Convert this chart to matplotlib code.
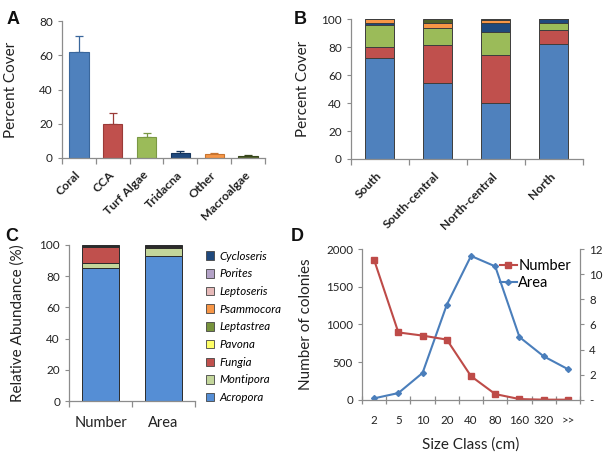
import matplotlib
matplotlib.use("Agg")
import matplotlib.pyplot as plt
import numpy as np
from matplotlib.patches import Patch

plt.rcParams['font.family'] = ['Lato', 'DejaVu Sans']

# ---------- Data ----------
# Panel A
a_categories = ["Coral", "CCA", "Turf Algae", "Tridacna", "Other", "Macroalgae"]
a_values = [62, 20, 12, 2.8, 2.3, 1.0]
a_errors = [9.5, 6.5, 2.5, 1.2, 0.7, 0.5]

# Panel B
b_regions = ["South", "South-central", "North-central", "North"]
b_coral = [72, 54, 40, 82]
b_cca = [8, 27.5, 34.5, 10]
b_turf = [15.5, 12, 16, 5]
b_tridacna = [2, 0, 7, 3]
b_other = [2.5, 4, 1.5, 0]
b_macro = [0, 2.5, 1, 0]

# Panel C
c_groups = ["Number", "Area"]
c_genera = ["Acropora", "Montipora", "Fungia", "Pavona", "Leptastrea",
            "Psammocora", "Leptoseris", "Porites", "Cycloseris"]
c_acropora = [85, 93]
c_montipora = [3.5, 5]
c_fungia = [10.5, 0.3]
c_pavona = [0, 0.3]
c_leptastrea = [0.2, 0.3]
c_psammocora = [0, 0.2]
c_leptoseris = [0.1, 0.1]
c_porites = [0, 0.1]
c_cycloseris = [0.7, 0.7]

# Panel D
d_sizes = ["2", "5", "10", "20", "40", "80", "160", "320", ">>"]
d_number = [1855, 895, 853, 800, 315, 78, 12, 4, 4]
d_area = [0.13, 0.55, 2.15, 7.57, 11.45, 10.62, 5.0, 3.47, 2.45]

# ---------- Style ----------
spine_col = "#8c8c8c"
txt_col = "#222222"

def style_axes(ax):
    for s in ["top", "right"]:
        ax.spines[s].set_visible(False)
    for s in ["left", "bottom"]:
        ax.spines[s].set_color(spine_col)
        ax.spines[s].set_linewidth(0.9)
    ax.tick_params(axis="both", colors=spine_col, labelcolor=txt_col)

def cat_ticks(ax, n, direction="out", length=4):
    ax.set_xlim(-0.5, n - 0.5)
    ax.set_xticks(np.arange(n))
    ax.set_xticks(np.arange(n + 1) - 0.5, minor=True)
    ax.tick_params(axis="x", which="major", length=0)
    ax.tick_params(axis="x", which="minor", length=length, direction=direction,
                   color=spine_col, width=0.9)

fig = plt.figure(figsize=(6.11, 4.54), dpi=100)

# ---------- Panel A ----------
axA = fig.add_axes([0.1015, 0.652, 0.332, 0.3017])
style_axes(axA)
colsA = ["#4F81BD", "#C0504D", "#9BBB59", "#1F497D", "#F79646", "#4F6228"]
edgA = ["#3A679C", "#9B3B38", "#7A9844", "#15355C", "#C77430", "#37461B"]
xA = np.arange(len(a_categories))
for i in range(len(xA)):
    axA.errorbar(xA[i], a_values[i], yerr=[[0], [a_errors[i]]], fmt="none",
                 ecolor=edgA[i], elinewidth=0.9, capsize=3, capthick=0.9, zorder=1)
axA.bar(xA, a_values, width=0.57, color=colsA, edgecolor=edgA, linewidth=0.8, zorder=2)
axA.set_ylim(0, 80)
axA.set_yticks([0, 20, 40, 60, 80])
cat_ticks(axA, len(xA))
axA.set_xticklabels(a_categories, rotation=45, ha="right", va="center",
                    rotation_mode="anchor", fontsize=8.8, fontweight="bold")
axA.tick_params(axis="x", which="major", pad=11)
axA.tick_params(axis="y", labelsize=8.5, length=3)
axA.set_ylabel("Percent Cover", fontsize=11, color=txt_col)
axA.yaxis.set_label_coords(-0.215, 0.5)

# ---------- Panel B ----------
axB = fig.add_axes([0.574, 0.6498, 0.380, 0.3082])
style_axes(axB)
xB = np.arange(len(b_regions))
layersB = [b_coral, b_cca, b_turf, b_tridacna, b_other, b_macro]
bottom = np.zeros(len(xB))
for vals, c in zip(layersB, colsA):
    vals = np.array(vals, dtype=float)
    axB.bar(xB, vals, bottom=bottom, width=0.5, color=c, edgecolor="#3d3d3d",
            linewidth=0.7)
    bottom += vals
axB.set_ylim(0, 100)
axB.set_yticks([0, 20, 40, 60, 80, 100])
cat_ticks(axB, len(xB))
axB.set_xticklabels(b_regions, rotation=45, ha="right", va="center",
                    rotation_mode="anchor", fontsize=8.8, fontweight="bold")
axB.tick_params(axis="x", which="major", pad=11)
axB.tick_params(axis="y", labelsize=8.5, length=3)
axB.set_ylabel("Percent Cover", fontsize=11, color=txt_col)
axB.yaxis.set_label_coords(-0.175, 0.5)

# ---------- Panel C ----------
axC = fig.add_axes([0.113, 0.1167, 0.206, 0.3437])
style_axes(axC)
xC = np.arange(len(c_groups))
layersC = [c_acropora, c_montipora, c_fungia, c_pavona, c_leptastrea,
           c_psammocora, c_leptoseris, c_porites, c_cycloseris]
colsC = ["#558ED5", "#C3D69B", "#C0504D", "#FFFF66", "#77933C",
         "#F79646", "#E6B9B8", "#B3A2C7", "#1F497D"]
bottom = np.zeros(len(xC))
for vals, c in zip(layersC, colsC):
    vals = np.array(vals, dtype=float)
    axC.bar(xC, vals, bottom=bottom, width=0.6, color=c, edgecolor="#2b2b2b",
            linewidth=0.7)
    bottom += vals
axC.set_ylim(0, 100)
axC.set_yticks([0, 20, 40, 60, 80, 100])
cat_ticks(axC, len(xC))
axC.set_xticklabels(c_groups, fontsize=10.5)
axC.tick_params(axis="x", which="major", pad=11)
axC.tick_params(axis="y", labelsize=8.5, length=3)
axC.set_ylabel("Relative Abundance (%)", fontsize=11, color=txt_col)
axC.yaxis.set_label_coords(-0.35, 0.5)
handles = [Patch(facecolor=c, edgecolor="#444444", linewidth=0.6, label=g)
           for g, c in zip(c_genera, colsC)][::-1]
axC.legend(handles=handles, loc="center left", bbox_to_anchor=(1.05, 0.475),
           frameon=False, prop={"style": "italic", "size": 8.3},
           handlelength=0.75, handleheight=0.75, handletextpad=0.45,
           labelspacing=0.58, borderaxespad=0)

# ---------- Panel D ----------
axD = fig.add_axes([0.5925, 0.119, 0.3568, 0.3325])
style_axes(axD)
xD = np.arange(len(d_sizes))
axD2 = axD.twinx()
for s in ["top", "left", "bottom"]:
    axD2.spines[s].set_visible(False)
axD2.spines["right"].set_color(spine_col)
axD2.spines["right"].set_linewidth(0.9)
lnA, = axD2.plot(xD, d_area, color="#4A7EBB", lw=1.5, marker="D", ms=3,
                 markerfacecolor="#4A7EBB", markeredgecolor="#4A7EBB", label="Area")
lnN, = axD.plot(xD, d_number, color="#BE4B48", lw=1.5, marker="s", ms=3.8,
                markerfacecolor="#BE4B48", markeredgecolor="#BE4B48", label="Number")
axD.set_zorder(axD2.get_zorder() + 1)
axD.patch.set_visible(False)
axD.set_ylim(0, 2000)
axD.set_yticks([0, 500, 1000, 1500, 2000])
axD2.set_ylim(0, 12)
axD2.set_yticks([0, 2, 4, 6, 8, 10, 12])
axD2.set_yticklabels(["-", "2", "4", "6", "8", "10", "12"])
cat_ticks(axD, len(xD), direction="inout", length=6)
axD.set_xticklabels(d_sizes, fontsize=8.3)
axD.tick_params(axis="x", which="major", pad=11)
axD.tick_params(axis="y", labelsize=8.3, length=3)
axD2.tick_params(axis="y", labelsize=8.3, length=3, colors=spine_col, labelcolor=txt_col)
axD.set_ylabel("Number of colonies", fontsize=11, color=txt_col)
axD.yaxis.set_label_coords(-0.225, 0.5)
axD.set_xlabel("Size Class (cm)", fontsize=11, color=txt_col, labelpad=8)
axD.legend(handles=[lnN, lnA], loc="upper right", bbox_to_anchor=(0.985, 0.975),
           frameon=False, fontsize=10.5, handlelength=1.15, handletextpad=0.1,
           labelspacing=0.25, borderaxespad=0)

# ---------- Panel letters ----------
for lab, x, y in [("A", 0.010, 0.975), ("B", 0.481, 0.975),
                  ("C", 0.008, 0.497), ("D", 0.476, 0.497)]:
    fig.text(x, y, lab, fontsize=13, fontweight="bold", family="Liberation Sans",
             va="top", ha="left", color="#111111")

fig.savefig("out.png", dpi=100)
